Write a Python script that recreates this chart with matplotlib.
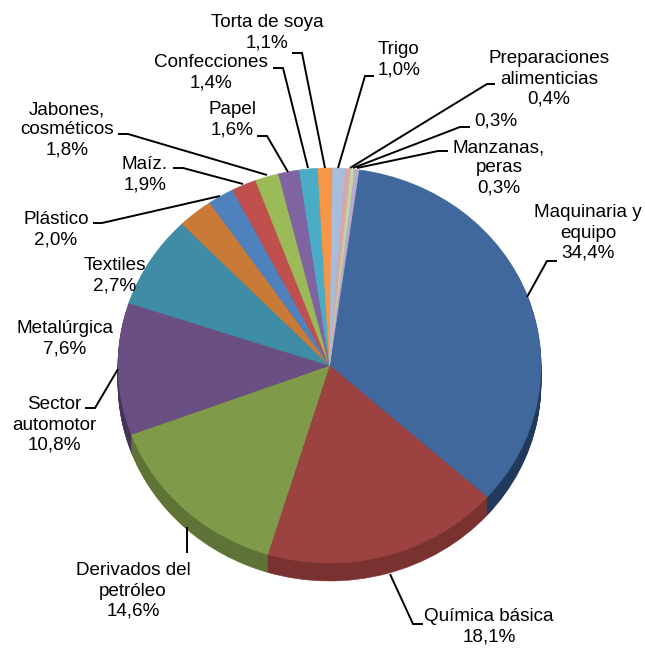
import matplotlib
matplotlib.use("Agg")
import matplotlib.pyplot as plt

# ---- data ----
categories = ["Maquinaria y\nequipo", "Química básica", "Derivados del\npetróleo",
              "Sector\nautomotor", "Metalúrgica", "Textiles", "Plástico", "Maíz.",
              "Jabones,\ncosméticos", "Papel", "Confecciones", "Torta de soya",
              "Trigo", "Preparaciones\nalimenticias", "", "Manzanas,\nperas"]
values = [34.4, 18.1, 14.6, 10.8, 7.6, 2.7, 2.0, 1.9, 1.8, 1.6, 1.4, 1.1, 1.0, 0.4, 0.3, 0.3]

# ---- style ----
top_colors = ["#41689C", "#9C4240", "#7F9B4A", "#6A4F83", "#3E8CA5", "#C97A37",
              "#4F81BD", "#C0504D", "#9BBB59", "#8064A2", "#4BACC6", "#F79646",
              "#A8BCDB", "#D9A8A6", "#C4D6A0", "#B9ABCF"]
side_colors = ["#213A5C", "#7A3230", "#5F7336", "#45335A", "#2A6174", "#8A5325",
               "#355A85", "#863735", "#6C833D", "#594671", "#33788A", "#AD6830",
               "#7585A0", "#98757A", "#899670", "#817790"]

W, H = 645, 648
cx, cy, rx, ry = 329.5, 365.5, 211.5, 197.5
depth = 18
start_deg = 82.0

# ---- layout, in reference pixels ----
label_xy = [(588, 233), (489, 627), (133, 591), (54, 425), (65, 339), (115, 276),
            (56, 230), (145, 175), (67, 130), (232, 120), (211, 73), (267, 33),
            (399, 60), (549, 79), (496, 121), (499, 168)]
leaders = [[(557, 261), (547, 261), (527, 297)],
           [(423, 624), (413, 624), (390, 574)],
           [(187, 553), (187, 527)],
           [(85, 408), (95, 408), (118, 369)],
           None, None,
           [(93, 223), (102, 223), (220, 196)],
           [(173, 168), (183, 168), (243, 184)],
           [(118, 134), (128, 134), (267, 175)],
           [(257, 136), (267, 136), (288, 172)],
           [(273, 68), (283, 68), (308, 168)],
           [(292, 53), (302, 53), (325, 168)],
           [(374, 76), (365, 76), (338, 168)],
           [(495, 84), (487, 84), (350, 168)],
           [(470, 127), (460, 127), (353, 168)],
           [(448, 151), (438, 151), (357, 168)]]

plt.rcParams["font.family"] = ["Liberation Sans", "DejaVu Sans"]
fig = plt.figure(figsize=(W / 100, H / 100), dpi=100, facecolor="white")
ax = fig.add_axes([0, 0, 1, 1])

for k in range(depth, -1, -1):
    cols = top_colors if k == 0 else side_colors
    wedges, _ = ax.pie(values, colors=cols, startangle=start_deg, counterclock=False,
                       center=(0, -k / ry), radius=1.0, frame=False,
                       wedgeprops=dict(linewidth=0, clip_on=False))
    for w, c in zip(wedges, cols):
        w.set_edgecolor(c)
        w.set_linewidth(0.4)
ax.set_aspect("auto")
ax.set_xlim(-cx / rx, (W - cx) / rx)
ax.set_ylim((cy - H) / ry, cy / ry)
ax.axis("off")

ov = fig.add_axes([0, 0, 1, 1], facecolor="none")
ov.set_xlim(0, W)
ov.set_ylim(H, 0)
ov.axis("off")

for name, val, (x, y), line in zip(categories, values, label_xy, leaders):
    pct = f"{val:.1f}%".replace(".", ",")
    txt = f"{name}\n{pct}" if name else pct
    if line:
        ov.plot([p[0] for p in line], [p[1] for p in line], color="black", lw=1.4,
                solid_capstyle="butt", solid_joinstyle="miter")
    ov.text(x, y, txt, ha="center", va="center", ma="center", fontsize=13.6,
            color="black", linespacing=1.26)

fig.savefig("out.png", dpi=100)
